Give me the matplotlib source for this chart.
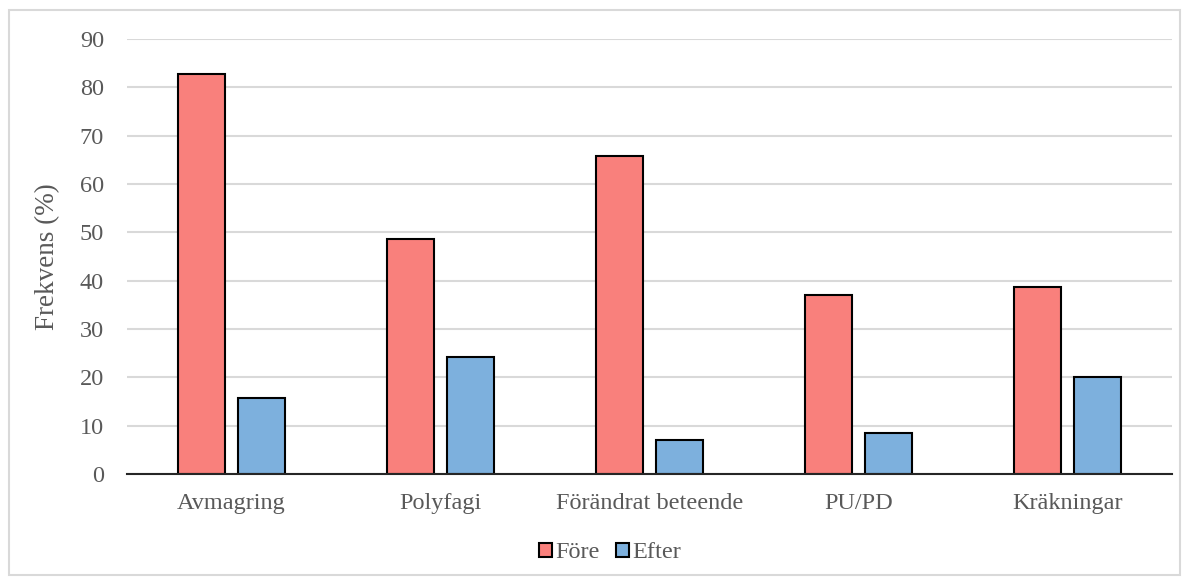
import numpy as np
import matplotlib
matplotlib.use('Agg')
import matplotlib.pyplot as plt
from matplotlib.patches import Rectangle

categories = ['Avmagring', 'Polyfagi', 'Förändrat beteende', 'PU/PD', 'Kräkningar']
fore = [82.8, 48.6, 65.7, 37.1, 38.6]
efter = [15.7, 24.2, 7.1, 8.5, 20.0]
series_names = ['Före', 'Efter']
yticks = [0, 10, 20, 30, 40, 50, 60, 70, 80, 90]

plt.rcParams['font.family'] = ['Liberation Serif', 'DejaVu Serif']
text_col = '#595959'
grid_col = '#D9D9D9'

fig = plt.figure(figsize=(11.89, 5.83), dpi=100)
ax = fig.add_axes([127/1189, 1 - 474/583, (1172 - 127)/1189, (474 - 39)/583])

x = np.arange(len(categories))
w = 0.225
off = 0.1435
ax.bar(x - off, fore, w, color='#F9807C', edgecolor='black', linewidth=1.5,
       label=series_names[0], zorder=3)
ax.bar(x + off, efter, w, color='#7DB0DD', edgecolor='black', linewidth=1.5,
       label=series_names[1], zorder=3)

ax.set_xlim(-0.5, len(categories) - 0.5)
ax.set_ylim(0, 90)
ax.set_yticks(yticks)
ax.set_xticks(x)
ax.set_xticklabels(categories)
ax.yaxis.grid(True, color=grid_col, linewidth=1.5, zorder=0)
ax.set_axisbelow(True)
for s in ['top', 'right', 'left']:
    ax.spines[s].set_visible(False)
ax.spines['bottom'].set_color('#262626')
ax.spines['bottom'].set_linewidth(1.5)
ax.spines['bottom'].set_zorder(4)
ax.tick_params(axis='both', length=0, labelsize=17.5, colors=text_col)
ax.tick_params(axis='y', pad=16.5)
ax.tick_params(axis='x', pad=14)
ax.set_ylabel('Frekvens (%)', fontsize=19.5, color=text_col, labelpad=14)

leg = fig.legend(loc='center', bbox_to_anchor=(610/1189, 1 - 553/583), ncol=2,
                 frameon=False, fontsize=17.5, handlelength=0.55, handleheight=0.55,
                 handletextpad=0.15, columnspacing=0.65)
for t in leg.get_texts():
    t.set_color(text_col)

# light chart-area border
fig.patches.append(Rectangle((9/1189, 1 - 575/583), (1180 - 9)/1189, (575 - 10)/583,
                             transform=fig.transFigure, fill=False,
                             edgecolor=grid_col, linewidth=1.5))

fig.savefig('out.png', dpi=100)
